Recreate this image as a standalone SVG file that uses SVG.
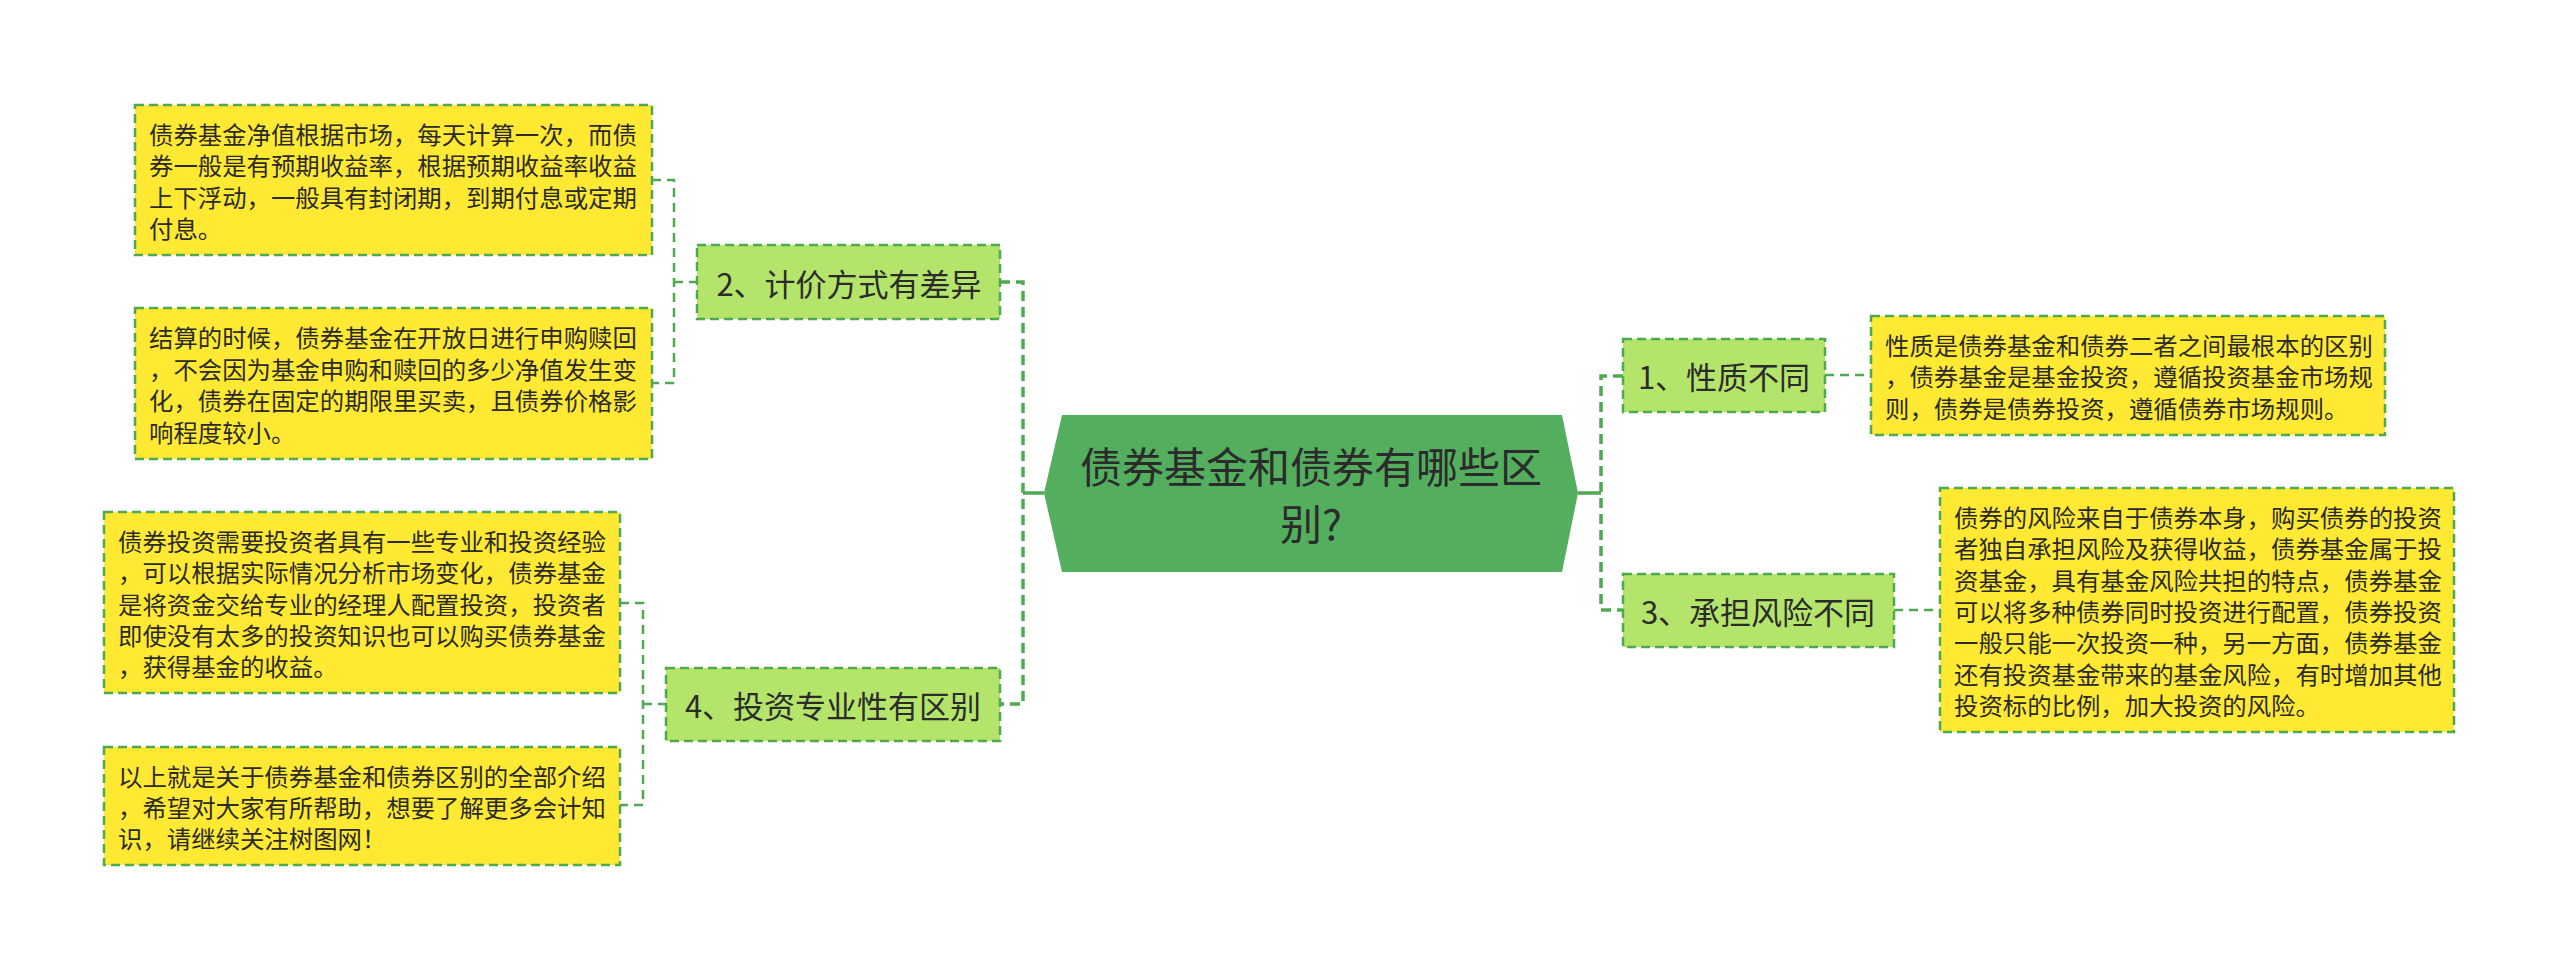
<svg xmlns="http://www.w3.org/2000/svg" width="2560" height="971" viewBox="0 0 2560 971">
<style>
text{font-family:"Noto Sans CJK SC","Noto Sans",sans-serif;fill:#2b2b2b;dominant-baseline:central}
.root{font-size:42px;text-anchor:middle}
.sub{font-size:31px;text-anchor:middle}
.leaf{font-size:24.4px}
.subbox{fill:#b4e56a;stroke:#4ea94f;stroke-width:2.5;stroke-dasharray:9 5}
.leafbox{fill:#ffe933;stroke:#4ea94f;stroke-width:2.5;stroke-dasharray:9 5}
.main{fill:none;stroke:#4ea94f;stroke-width:3.5;stroke-dasharray:10 6}
.solid{fill:none;stroke:#4ea94f;stroke-width:3.5}
.thin{fill:none;stroke:#4ea94f;stroke-width:2.5;stroke-dasharray:9 6}
</style>
<rect width="2560" height="971" fill="#ffffff"/>
<g id="connectors">
<path class="solid" d="M1044 493H1023M1578 493H1601"/>
<path class="main" d="M1000 282H1023V704H1000"/>
<path class="main" d="M1623 376H1601V610H1623"/>
<path class="thin" d="M652 180H674V383H652M674 282H697"/>
<path class="thin" d="M620 603H643V805H620M643 704H666"/>
<path class="thin" d="M1825 375H1871M1894 610H1940"/>
</g>
<g id="root">
<polygon points="1044,493 1062,415 1562,415 1578,493 1562,572 1062,572" fill="#53ae5e"/>
<text class="root" x="1311" y="464">债券基金和债券有哪些区</text>
<text class="root" x="1311" y="521">别?</text>
</g>
<g id="n2">
<rect class="subbox" x="697" y="245" width="303" height="74"/>
<text class="sub" x="849" y="282">2、计价方式有差异</text>
</g>
<g id="n4">
<rect class="subbox" x="666" y="668" width="334" height="73"/>
<text class="sub" x="833" y="704">4、投资专业性有区别</text>
</g>
<g id="n1">
<rect class="subbox" x="1623" y="339" width="202" height="73"/>
<text class="sub" x="1724" y="375">1、性质不同</text>
</g>
<g id="n3">
<rect class="subbox" x="1623" y="574" width="271" height="73"/>
<text class="sub" x="1758" y="610">3、承担风险不同</text>
</g>
<g id="leafA">
<rect class="leafbox" x="135" y="105" width="517" height="150"/>
<text class="leaf" x="149" y="133">债券基金净值根据市场，每天计算一次，而债</text>
<text class="leaf" x="149" y="164">券一般是有预期收益率，根据预期收益率收益</text>
<text class="leaf" x="149" y="196">上下浮动，一般具有封闭期，到期付息或定期</text>
<text class="leaf" x="149" y="227">付息。</text>
</g>
<g id="leafB">
<rect class="leafbox" x="135" y="308" width="517" height="151"/>
<text class="leaf" x="149" y="336">结算的时候，债券基金在开放日进行申购赎回</text>
<text class="leaf" x="149" y="368">，不会因为基金申购和赎回的多少净值发生变</text>
<text class="leaf" x="149" y="399">化，债券在固定的期限里买卖，且债券价格影</text>
<text class="leaf" x="149" y="431">响程度较小。</text>
</g>
<g id="leafC">
<rect class="leafbox" x="104" y="512" width="516" height="181"/>
<text class="leaf" x="118" y="540">债券投资需要投资者具有一些专业和投资经验</text>
<text class="leaf" x="118" y="571">，可以根据实际情况分析市场变化，债券基金</text>
<text class="leaf" x="118" y="603">是将资金交给专业的经理人配置投资，投资者</text>
<text class="leaf" x="118" y="634">即使没有太多的投资知识也可以购买债券基金</text>
<text class="leaf" x="118" y="665">，获得基金的收益。</text>
</g>
<g id="leafD">
<rect class="leafbox" x="104" y="747" width="516" height="118"/>
<text class="leaf" x="118" y="775">以上就是关于债券基金和债券区别的全部介绍</text>
<text class="leaf" x="118" y="806">，希望对大家有所帮助，想要了解更多会计知</text>
<text class="leaf" x="118" y="837">识，请继续关注树图网！</text>
</g>
<g id="leafE">
<rect class="leafbox" x="1871" y="316" width="514" height="119"/>
<text class="leaf" x="1885" y="344">性质是债券基金和债券二者之间最根本的区别</text>
<text class="leaf" x="1885" y="375.5">，债券基金是基金投资，遵循投资基金市场规</text>
<text class="leaf" x="1885" y="407">则，债券是债券投资，遵循债券市场规则。</text>
</g>
<g id="leafF">
<rect class="leafbox" x="1940" y="488" width="514" height="244"/>
<text class="leaf" x="1954" y="516">债券的风险来自于债券本身，购买债券的投资</text>
<text class="leaf" x="1954" y="547">者独自承担风险及获得收益，债券基金属于投</text>
<text class="leaf" x="1954" y="579">资基金，具有基金风险共担的特点，债券基金</text>
<text class="leaf" x="1954" y="610">可以将多种债券同时投资进行配置，债券投资</text>
<text class="leaf" x="1954" y="641">一般只能一次投资一种，另一方面，债券基金</text>
<text class="leaf" x="1954" y="673">还有投资基金带来的基金风险，有时增加其他</text>
<text class="leaf" x="1954" y="704">投资标的比例，加大投资的风险。</text>
</g>
</svg>
